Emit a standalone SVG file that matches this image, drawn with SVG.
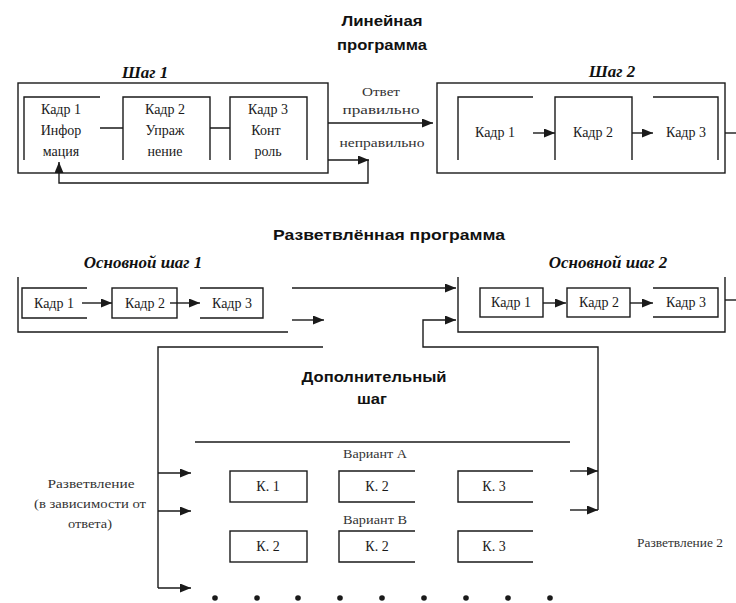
<svg xmlns="http://www.w3.org/2000/svg" width="736" height="603" viewBox="0 0 736 603">
  <defs>
    <marker id="ah" markerUnits="userSpaceOnUse" markerWidth="12" markerHeight="10" refX="11" refY="4.5" orient="auto">
      <path d="M0,0 L11,4.5 L0,9 Z" fill="#1a1a1a"/>
    </marker>
    <style>
      .ln { fill: none; stroke: #1a1a1a; stroke-width: 1.4; }
      .ar { fill: none; stroke: #1a1a1a; stroke-width: 1.4; marker-end: url(#ah); }
      .t { font-family: "Liberation Serif", "Times New Roman", serif; font-size: 14px; fill: #1a1a1a; text-anchor: middle; }
      .s { font-family: "Liberation Serif", "Times New Roman", serif; font-size: 13px; fill: #333; text-anchor: middle; }
      .h { font-family: "Liberation Sans", Arial, sans-serif; font-size: 15px; font-weight: bold; fill: #111; text-anchor: middle; }
      .i { font-family: "Liberation Serif", "Times New Roman", serif; font-size: 17px; font-weight: bold; font-style: italic; fill: #111; text-anchor: middle; }
      .dot { fill: #1a1a1a; }
    </style>
  </defs>
  <rect width="736" height="603" fill="#ffffff"/>

  <!-- Linear programme -->
  <g id="title-linear">
    <text class="h" x="382" y="26" textLength="81" lengthAdjust="spacingAndGlyphs">Линейная</text>
    <text class="h" x="382" y="50" textLength="90" lengthAdjust="spacingAndGlyphs">программа</text>
  </g>

  <g id="step1">
    <text class="i" x="145" y="78">Шаг 1</text>
    <rect class="ln" x="18" y="83" width="310" height="90"/>
    <!-- frame 1 -->
    <path class="ln" d="M100,97 H24 V160"/>
    <text class="t" x="61" y="114">Кадр 1</text>
    <text class="t" x="61" y="135">Инфор</text>
    <text class="t" x="61" y="156">мация</text>
    <!-- frame 2 -->
    <path class="ln" d="M123,160 V97 H210 V160"/>
    <text class="t" x="165" y="114">Кадр 2</text>
    <text class="t" x="165" y="135">Упраж</text>
    <text class="t" x="165" y="156">нение</text>
    <!-- frame 3 -->
    <path class="ln" d="M230,160 V97 H307 V160"/>
    <text class="t" x="268" y="114">Кадр 3</text>
    <text class="t" x="266" y="135">Конт</text>
    <text class="t" x="268" y="156">роль</text>
  </g>

  <g id="step2">
    <text class="i" x="612" y="77">Шаг 2</text>
    <rect class="ln" x="437" y="83" width="288" height="90"/>
    <path class="ln" d="M533,97 H458 V160"/>
    <text class="t" x="495" y="137">Кадр 1</text>
    <path class="ln" d="M555,160 V97 H632 V160"/>
    <text class="t" x="593" y="137">Кадр 2</text>
    <path class="ln" d="M653,97 H718 V160"/>
    <text class="t" x="686" y="137">Кадр 3</text>
  </g>

  <g id="answer-labels">
    <text class="s" x="381" y="96" textLength="38" lengthAdjust="spacingAndGlyphs">Ответ</text>
    <text class="s" x="381" y="114" textLength="77" lengthAdjust="spacingAndGlyphs">правильно</text>
    <text class="s" x="382" y="147" textLength="85" lengthAdjust="spacingAndGlyphs">неправильно</text>
  </g>

  <!-- Branched programme -->
  <g id="title-branched">
    <text class="h" x="389" y="240" textLength="232" lengthAdjust="spacingAndGlyphs">Разветвлённая программа</text>
  </g>

  <g id="main-step1">
    <text class="i" x="143" y="268">Основной шаг 1</text>
    <path class="ln" d="M18,277 V332 H288"/>
    <path class="ln" d="M87,288 H22 V318 H87"/>
    <text class="t" x="54" y="308">Кадр 1</text>
    <rect class="ln" x="112" y="288" width="65" height="30"/>
    <text class="t" x="145" y="308">Кадр 2</text>
    <path class="ln" d="M200,288 H263 V318 H200"/>
    <text class="t" x="232" y="308">Кадр 3</text>
  </g>

  <g id="main-step2">
    <text class="i" x="608" y="268">Основной шаг 2</text>
    <path class="ln" d="M458,277 V332 H725 V277"/>
    <rect class="ln" x="480" y="288" width="63" height="29"/>
    <text class="t" x="511" y="307">Кадр 1</text>
    <rect class="ln" x="567" y="288" width="63" height="29"/>
    <text class="t" x="599" y="307">Кадр 2</text>
    <path class="ln" d="M653,288 H718 V317 H653"/>
    <text class="t" x="686" y="307">Кадр 3</text>
  </g>

  <g id="extra-step">
    <text class="h" x="374" y="382" textLength="145" lengthAdjust="spacingAndGlyphs">Дополнительный</text>
    <text class="h" x="372" y="404" textLength="30" lengthAdjust="spacingAndGlyphs">шаг</text>
    <path class="ln" d="M195,442 H570"/>
    <text class="s" x="375" y="458" textLength="64" lengthAdjust="spacingAndGlyphs">Вариант А</text>
    <text class="s" x="375" y="524" textLength="64" lengthAdjust="spacingAndGlyphs">Вариант В</text>
    <rect class="ln" x="230" y="471" width="77" height="31"/>
    <text class="t" x="268" y="491">К. 1</text>
    <path class="ln" d="M415,471 H339 V502 H415"/>
    <text class="t" x="377" y="491">К. 2</text>
    <path class="ln" d="M533,471 H458 V502 H533"/>
    <text class="t" x="494" y="491">К. 3</text>
    <rect class="ln" x="230" y="531" width="77" height="31"/>
    <text class="t" x="268" y="551">К. 2</text>
    <path class="ln" d="M415,531 H339 V562 H415"/>
    <text class="t" x="377" y="551">К. 2</text>
    <path class="ln" d="M533,531 H458 V562 H533"/>
    <text class="t" x="494" y="551">К. 3</text>
  </g>

  <g id="branch-labels">
    <text class="s" x="91" y="488" textLength="87" lengthAdjust="spacingAndGlyphs">Разветвление</text>
    <text class="s" x="90" y="508" textLength="112" lengthAdjust="spacingAndGlyphs">(в зависимости от</text>
    <text class="s" x="90" y="528" textLength="44" lengthAdjust="spacingAndGlyphs">ответа)</text>
    <text class="s" x="680" y="547" textLength="86" lengthAdjust="spacingAndGlyphs">Разветвление 2</text>
  </g>

  <g id="connectors">
    <!-- linear programme -->
    <path class="ln" d="M100,128 H123 M210,128 H230"/>
    <path class="ar" d="M328,123 H433"/>
    <path class="ar" d="M328,160 H369"/>
    <path class="ar" d="M368,160 V183 H59 V162"/>
    <path class="ar" d="M533,133 H555"/>
    <path class="ar" d="M632,133 H653"/>
    <path class="ln" d="M725,133 H736"/>
    <!-- main step 1 -->
    <path class="ar" d="M82,303 H112"/>
    <path class="ar" d="M170,303 H200"/>
    <path class="ar" d="M292,288 H456"/>
    <path class="ar" d="M292,320 H324"/>
    <!-- main step 2 -->
    <path class="ar" d="M543,303 H566"/>
    <path class="ar" d="M630,303 H653"/>
    <path class="ln" d="M725,300 H736"/>
    <path class="ar" d="M598,510 V347 H423 V320 H456"/>
    <!-- extra step -->
    <path class="ln" d="M323,347 H158 V588"/>
    <path class="ar" d="M158,473 H191"/>
    <path class="ar" d="M158,511 H191"/>
    <path class="ar" d="M158,588 H191"/>
    <path class="ar" d="M570,471 H598"/>
    <path class="ar" d="M570,510 H598"/>
  </g>

  <g id="dots">
    <circle class="dot" cx="215" cy="598" r="2.8"/>
    <circle class="dot" cx="257" cy="598" r="2.8"/>
    <circle class="dot" cx="298" cy="598" r="2.8"/>
    <circle class="dot" cx="340" cy="598" r="2.8"/>
    <circle class="dot" cx="382" cy="598" r="2.8"/>
    <circle class="dot" cx="424" cy="598" r="2.8"/>
    <circle class="dot" cx="466" cy="598" r="2.8"/>
    <circle class="dot" cx="508" cy="598" r="2.8"/>
    <circle class="dot" cx="550" cy="598" r="2.8"/>
  </g>
</svg>
